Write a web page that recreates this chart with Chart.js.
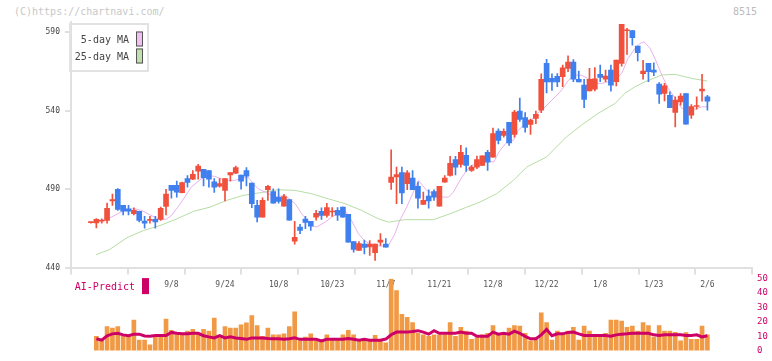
<!DOCTYPE html>
<html>
<head>
<meta charset="utf-8">
<script src="https://cdn.jsdelivr.net/npm/chart.js@4.4.1/dist/chart.umd.min.js"></script>
<style>
    body { margin: 0; background: #fff; width: 772px; height: 361px; overflow: hidden; position: relative; font-family: "DejaVu Sans Mono", monospace; }
    #price-wrap { position: absolute; left: 0; top: 0; width: 772px; height: 300px; }
    #volume-wrap { position: absolute; left: 0; top: 268px; width: 772px; height: 93px; }
    .note { position: absolute; top: 5px; font-size: 10px; line-height: 14px; color: #c8c8c8; }
</style>
</head>
<body>
<div class="note" style="left:14px">(C)https://chartnavi.com/</div>
<div class="note" style="left:733px;color:#bbb">8515</div>
<div id="price-wrap"><canvas id="price-chart"></canvas></div>
<div id="volume-wrap"><canvas id="volume-chart"></canvas></div>
<script>
// daily candles, 8/18 .. 2/6 (index = trading day)
const opens = [468.6, 468.5, 469.5, 470.0, 482.4, 489.8, 479.6, 477.5, 474.3, 475.8,
    469.6, 470.0, 470.7, 470.7, 479.0, 492.4, 492.4, 487.7, 496.8, 496.4,
    501.5, 502.6, 501.9, 494.7, 491.9, 489.2, 499.0, 500.2, 499.0, 501.9,
    493.8, 479.6, 472.1, 489.6, 488.5, 484.7, 479.2, 483.4, 456.8, 465.8,
    470.9, 469.4, 472.1, 475.8, 473.2, 475.4, 476.4, 478.5, 473.9, 456.6,
    450.9, 454.9, 453.2, 449.4, 456.2, 454.9, 494.3, 497.7, 500.5, 493.4,
    497.0, 491.7, 480.2, 485.5, 488.5, 479.2, 494.5, 498.7, 508.9, 505.8,
    511.5, 501.9, 504.0, 505.1, 513.4, 510.4, 527.0, 524.3, 532.6, 524.9,
    539.8, 535.7, 531.3, 535.1, 540.4, 570.2, 560.6, 562.0, 561.7, 567.0,
    571.0, 560.0, 556.3, 552.7, 553.8, 563.2, 560.2, 565.9, 558.5, 570.2,
    591.0, 591.2, 581.2, 563.6, 570.2, 565.9, 557.0, 551.1, 549.8, 538.9,
    545.7, 551.0, 537.2, 542.7, 552.7, 548.9];
const highs = [469.0, 471.2, 471.0, 481.1, 486.8, 490.4, 479.6, 479.6, 478.1, 475.8,
    472.6, 472.6, 472.6, 478.5, 489.8, 492.4, 495.1, 494.5, 498.7, 501.9,
    505.8, 502.6, 501.9, 496.8, 496.8, 496.8, 500.6, 504.7, 499.0, 503.8,
    493.8, 482.8, 484.5, 492.4, 490.2, 490.2, 486.6, 483.4, 469.4, 467.5,
    472.6, 469.4, 476.4, 478.1, 480.9, 478.3, 478.3, 478.5, 473.9, 456.6,
    456.6, 457.5, 457.1, 454.9, 461.7, 458.5, 515.0, 504.1, 504.1, 501.9,
    501.9, 494.5, 488.1, 489.6, 489.6, 491.7, 498.7, 510.9, 510.9, 517.9,
    516.4, 505.1, 511.1, 511.3, 514.7, 528.9, 528.5, 528.5, 532.6, 540.2,
    548.1, 538.9, 534.7, 539.8, 563.6, 572.8, 563.6, 563.7, 569.1, 575.1,
    572.7, 565.3, 560.0, 567.0, 567.6, 569.1, 565.9, 569.1, 572.3, 595.1,
    592.5, 591.2, 581.2, 572.1, 570.2, 570.6, 558.0, 557.4, 552.1, 548.9,
    551.0, 551.0, 544.0, 548.9, 563.2, 549.9];
const lows = [468.2, 465.3, 468.3, 468.3, 479.6, 476.4, 473.6, 473.6, 473.6, 469.0,
    465.1, 468.3, 465.1, 470.0, 473.6, 484.3, 484.9, 487.5, 491.3, 496.0,
    496.4, 492.1, 491.3, 487.9, 491.3, 482.4, 495.1, 499.8, 490.0, 492.1,
    478.1, 469.0, 472.1, 482.8, 481.1, 481.1, 479.2, 470.2, 454.9, 461.5,
    464.7, 463.6, 470.2, 470.7, 472.1, 472.6, 470.0, 472.1, 456.2, 449.8,
    450.9, 448.7, 447.7, 444.5, 454.1, 453.0, 489.8, 480.7, 480.7, 489.6,
    489.6, 477.9, 480.2, 477.9, 482.8, 479.2, 494.5, 498.3, 499.1, 504.0,
    501.3, 501.3, 503.0, 505.1, 501.9, 510.4, 518.9, 523.2, 517.9, 523.2,
    533.2, 526.4, 524.9, 531.7, 538.7, 551.3, 553.0, 555.4, 555.3, 564.9,
    558.5, 558.3, 541.9, 552.7, 552.7, 558.5, 558.5, 552.5, 555.9, 568.5,
    575.9, 581.9, 571.7, 560.2, 558.5, 562.3, 544.6, 546.3, 541.9, 529.7,
    543.6, 531.4, 535.1, 541.0, 546.1, 540.4];
const closes = [468.9, 470.7, 469.9, 477.7, 483.4, 477.0, 476.0, 476.0, 476.4, 470.0,
    468.3, 470.7, 469.0, 477.7, 486.8, 489.2, 488.1, 494.1, 494.3, 499.4,
    504.7, 497.3, 496.4, 491.3, 493.6, 496.8, 500.6, 503.8, 495.1, 498.3,
    480.7, 472.1, 482.8, 491.7, 481.1, 482.1, 485.3, 470.2, 459.2, 463.6,
    468.7, 466.4, 474.5, 473.2, 478.3, 475.8, 473.4, 472.1, 456.2, 451.5,
    455.3, 452.8, 454.9, 454.9, 457.5, 453.0, 497.7, 499.2, 487.5, 500.4,
    489.6, 484.3, 482.8, 482.4, 484.9, 491.7, 497.0, 506.4, 504.0, 513.4,
    505.1, 504.0, 508.9, 511.3, 507.2, 525.5, 521.1, 526.8, 519.4, 539.2,
    534.5, 529.4, 534.0, 537.7, 560.0, 558.3, 558.3, 558.4, 567.4, 571.0,
    560.2, 558.3, 547.2, 560.0, 560.4, 561.2, 562.1, 556.3, 572.3, 595.1,
    591.6, 586.6, 577.0, 565.3, 564.9, 564.6, 550.6, 555.9, 541.9, 546.8,
    549.3, 531.4, 542.7, 543.3, 553.8, 546.1];

// volume (10k shares) and AI-Predict line
const volumes = [null, 9.9, 7.2, 16.6, 15.6, 16.6, 9.9, 9.9, 21.1, 7.2,
    7.2, 4.0, 9.9, 9.9, 21.9, 14.1, 11.4, 11.4, 13.5, 14.7,
    11.4, 14.7, 13.5, 22.6, 9.9, 16.6, 15.6, 15.6, 17.9, 19.2,
    24.2, 17.3, 9.9, 15.6, 10.9, 10.9, 11.6, 16.6, 26.8, 6.7,
    9.3, 11.6, 6.7, 7.2, 10.9, 7.2, 7.2, 10.9, 14.1, 10.9,
    7.2, 7.2, 7.2, 10.5, 7.2, 5.3, 49.6, 41.5, 25.1, 23.0,
    19.4, 12.0, 10.9, 9.9, 10.9, 10.9, 10.9, 19.4, 9.9, 16.2,
    13.5, 7.8, 8.8, 10.9, 12.0, 17.3, 12.0, 12.0, 15.6, 17.3,
    16.9, 12.0, 6.7, 7.8, 26.1, 19.4, 7.2, 13.5, 10.9, 13.5,
    16.2, 7.2, 16.9, 13.5, 9.3, 9.3, 12.0, 21.1, 21.1, 20.5,
    16.2, 16.9, 13.5, 19.4, 17.3, 9.3, 17.3, 13.5, 13.5, 12.6,
    6.7, 12.4, 7.8, 7.8, 16.9, 10.9];
const aiPredict = [null, 8.2, 7.2, 10.3, 11.6, 12.0, 10.9, 10.3, 11.4, 11.4,
    10.1, 9.9, 10.5, 10.5, 10.5, 12.6, 12.0, 11.6, 11.6, 12.0,
    12.0, 10.3, 9.5, 8.8, 10.3, 8.8, 9.5, 8.8, 8.4, 7.8,
    8.8, 8.8, 8.8, 8.4, 8.2, 8.2, 7.8, 8.2, 8.8, 7.8,
    7.8, 7.8, 7.8, 6.7, 7.8, 7.8, 7.8, 7.8, 8.4, 7.8,
    7.2, 7.8, 7.2, 7.2, 7.2, 8.0, 11.0, 12.8, 12.8, 12.8,
    13.2, 13.8, 12.8, 11.4, 13.8, 12.0, 12.0, 12.0, 12.0, 12.8,
    12.0, 12.0, 9.9, 9.9, 9.9, 12.8, 11.4, 12.0, 11.4, 13.5,
    12.0, 9.9, 8.2, 8.2, 10.9, 14.7, 10.3, 11.6, 11.6, 12.6,
    12.8, 11.6, 10.5, 10.5, 10.5, 10.5, 10.5, 9.9, 10.9, 11.4,
    11.6, 12.0, 12.0, 12.0, 12.0, 10.9, 10.5, 10.9, 10.9, 10.9,
    10.9, 10.5, 10.5, 10.9, 9.5, 10.3];

// moving averages as [day index, value]
const ma5 = [[1.3, 470.0], [3.2, 471.1], [5.0, 474.3], [6.3, 476.8], [8.2, 477.5], [9.4, 476.4],
    [11, 473.6], [12.5, 471.1], [14, 470.7], [15, 473.2], [16.2, 478.5], [17.5, 484.9],
    [18.7, 491.3], [20.6, 496.6], [21.8, 498.7], [23.1, 498.1], [24.3, 496.6], [25.6, 495.6],
    [26.8, 495.6], [28, 496.6], [29.3, 497.7], [30.3, 493.4], [31.2, 490.2], [32.5, 488.1],
    [34.3, 484.9], [36.2, 486.0], [38.1, 480.7], [39.3, 474.3], [41.2, 466.8], [42.1, 465.8],
    [43.7, 469.0], [44.9, 472.1], [46.8, 476.0], [47.4, 476.4], [48.6, 470.0], [49.9, 461.5],
    [51.1, 456.8], [52.7, 454.1], [54.2, 453.6], [55.5, 454.1], [56.7, 461.5], [57.6, 470.0],
    [58.9, 478.5], [61.1, 495.5], [62.6, 489.2], [63.9, 487.0], [65.4, 484.9], [66.7, 484.9],
    [67.6, 488.1], [69.2, 497.7], [70.1, 501.9], [71, 505.1], [72.6, 507.2], [73.8, 508.3],
    [75.1, 507.2], [76.3, 514.7], [77.6, 520.0], [78.8, 521.1], [79.7, 527.5], [81, 531.7],
    [81.9, 532.8], [83.2, 538.1], [84.4, 541.3], [85.6, 545.5], [86.9, 549.8], [87.8, 553.2],
    [89.1, 559.5], [90.3, 562.7], [91.5, 562.7], [92.7, 560.6], [94, 557.4], [95.3, 557.4],
    [96.5, 558.5], [97.8, 559.5], [99, 563.8], [100.2, 573.4], [101.5, 579.8], [102.4, 582.9],
    [103.2, 584.0], [104.3, 579.8], [105.2, 573.4], [106.5, 562.7], [107.7, 554.2], [109, 547.8],
    [110.2, 541.5], [111.8, 541.9], [112.7, 541.0], [113.9, 542.5], [115.1, 542.5]];
const ma25 = [[0.9, 448.1], [3.5, 451.5], [6.7, 459.0], [9.8, 463.6], [12.9, 466.8], [16, 471.0],
    [19.1, 475.8], [22.2, 478.5], [25.3, 482.8], [28.4, 486.0], [31.5, 487.7], [34.9, 489.6],
    [38.1, 489.2], [41.2, 487.0], [44.3, 483.8], [47.4, 480.7], [50.5, 476.4], [53.6, 471.1],
    [55.5, 468.9], [58.6, 470.5], [63.9, 470.5], [67, 474.3], [70.1, 478.5], [72.6, 481.8],
    [75.7, 487.1], [78.8, 495.6], [81.3, 504.1], [85, 510.5], [88.7, 523.3], [91.5, 530.8],
    [94.6, 538.3], [97.8, 544.7], [99.6, 551.1], [101.5, 555.3], [103.4, 558.5], [106.5, 562.8],
    [109, 563.2], [112.1, 560.6], [115, 558.9]];

const tickIdx = [15, 25, 35, 45, 55, 65, 75, 85, 95, 105, 115];
const tickLabels = ['9/8', '9/24', '10/8', '10/23', '11/7', '11/21', '12/8', '12/22', '1/8', '1/23', '2/6'];
const priceTicks = [440, 490, 540, 590];
const volTicks = [0, 10, 20, 30, 40, 50];

const UP = '#f0503c';
const DOWN = '#3f7fee';
const MONO = '"DejaVu Sans Mono", monospace';
const X_MIN = -3.73;
const X_MAX = 123.32;

const days = closes.map((c, i) => i);
const candleColors = days.map(i => closes[i] >= opens[i] ? UP : DOWN);

// legend drawn as a framed box in the top-left of the plot, text left of the swatch
const boxLegend = {
    id: 'boxLegend',
    afterDraw(chart, args, opts) {
        if (!opts.items) return;
        const ctx = chart.ctx;
        const left = chart.chartArea.left + opts.dx;
        const top = chart.chartArea.top + opts.dy;
        ctx.save();
        if (opts.frame) {
            ctx.strokeStyle = '#e2e2e2';
            ctx.lineWidth = 2;
            ctx.strokeRect(left, top, opts.w, opts.h);
        }
        ctx.font = opts.font;
        ctx.textAlign = 'right';
        ctx.textBaseline = 'middle';
        opts.items.forEach((item, k) => {
            const cy = top + opts.firstRow + k * opts.rowGap;
            ctx.fillStyle = item.textColor;
            ctx.fillText(item.text, left + opts.textRight, cy + 1);
            ctx.fillStyle = item.fill;
            ctx.fillRect(left + opts.swatchX, cy - opts.swatchH / 2, opts.swatchW, opts.swatchH);
            if (item.stroke) {
                ctx.strokeStyle = item.stroke;
                ctx.lineWidth = 1;
                ctx.strokeRect(left + opts.swatchX + 0.5, cy - opts.swatchH / 2 + 0.5, opts.swatchW - 1, opts.swatchH - 1);
            }
        });
        ctx.restore();
    }
};

Chart.register(boxLegend);

new Chart(document.getElementById('price-chart'), {
    type: 'bar',
    data: {
        datasets: [{
            label: 'wick',
            data: days.map(i => ({ x: i, y: [lows[i], highs[i]] })),
            backgroundColor: candleColors,
            barThickness: 1,
            minBarLength: 1,
            grouped: false,
            order: 1,
        }, {
            label: 'body',
            data: days.map(i => ({ x: i, y: [opens[i], closes[i]] })),
            backgroundColor: candleColors,
            barThickness: 5,
            minBarLength: 1,
            grouped: false,
            order: 0,
        }, {
            type: 'line',
            label: '5-day MA',
            data: ma5.map(p => ({ x: p[0], y: p[1] })),
            borderColor: '#e8b2ea',
            borderWidth: 1,
            pointRadius: 0,
            order: 2,
        }, {
            type: 'line',
            label: '25-day MA',
            data: ma25.map(p => ({ x: p[0], y: p[1] })),
            borderColor: '#b6dca4',
            borderWidth: 1,
            pointRadius: 0,
            order: 3,
        }]
    },
    options: {
        responsive: true,
        maintainAspectRatio: false,
        animation: false,
        events: [],
        layout: { padding: { top: 22, right: 20, left: 0, bottom: 0 } },
        scales: {
            x: {
                type: 'linear',
                min: X_MIN,
                max: X_MAX,
                offset: false,
                position: 'bottom',
                weight: 1,
                afterBuildTicks: s => { s.ticks = tickIdx.map(v => ({ value: v })); },
                afterFit: s => { s.height = 24.5; },
                ticks: {
                    autoSkip: false,
                    maxRotation: 0,
                    padding: 5,
                    color: '#555',
                    font: { family: MONO, size: 8 },
                    callback: v => tickLabels[tickIdx.indexOf(v)] || '',
                },
                grid: { display: false, drawTicks: false },
                border: { display: false },
            },
            frameX: {
                type: 'linear',
                min: 0,
                max: 11,
                position: 'bottom',
                weight: 0,
                afterFit: s => { s.height = 8; },
                ticks: { display: false, stepSize: 1 },
                grid: { drawOnChartArea: false, tickLength: 7, color: '#e0e0e0', lineWidth: 2 },
                border: { color: '#e0e0e0', width: 2 },
            },
            y: {
                min: 440,
                max: 596.6,
                afterBuildTicks: s => { s.ticks = priceTicks.map(v => ({ value: v })); },
                afterFit: s => { s.width = 71; },
                ticks: { padding: 5, color: '#444', font: { family: MONO, size: 8 } },
                grid: { drawOnChartArea: false, tickLength: 6, color: '#e0e0e0', lineWidth: 2 },
                border: { color: '#e0e0e0', width: 2 },
            }
        },
        plugins: {
            legend: { display: false },
            tooltip: { enabled: false },
            boxLegend: {
                dx: -1, dy: 2, w: 78, h: 47,
                firstRow: 15, rowGap: 17,
                textRight: 59, swatchX: 66, swatchW: 7, swatchH: 15,
                frame: true,
                font: '10px ' + MONO,
                items: [
                    { text: '5-day MA', textColor: '#444', fill: '#f0c0f0', stroke: '#555' },
                    { text: '25-day MA', textColor: '#444', fill: '#c0e0b0', stroke: '#555' },
                ]
            }
        }
    }
});

new Chart(document.getElementById('volume-chart'), {
    type: 'bar',
    data: {
        datasets: [{
            type: 'line',
            label: 'AI-Predict',
            data: days.map(i => ({ x: i, y: aiPredict[i] })),
            borderColor: '#cc0066',
            borderWidth: 3,
            pointRadius: 0,
            order: 0,
        }, {
            label: 'Volume',
            data: days.map(i => ({ x: i, y: volumes[i] })),
            backgroundColor: '#f19a45',
            barThickness: 4,
            grouped: false,
            order: 1,
        }]
    },
    options: {
        responsive: true,
        maintainAspectRatio: false,
        animation: false,
        events: [],
        layout: { padding: { top: 10.3, right: 0, left: 71, bottom: 3.2 } },
        scales: {
            x: {
                type: 'linear',
                min: X_MIN,
                max: X_MAX,
                offset: false,
                display: false,
            },
            y: {
                position: 'right',
                min: 0,
                max: 50,
                afterBuildTicks: s => { s.ticks = volTicks.map(v => ({ value: v })); },
                afterFit: s => { s.width = 20; },
                ticks: { padding: 5, color: '#cc0066', font: { family: MONO, size: 9 } },
                grid: { display: false, drawTicks: false },
                border: { display: false },
            }
        },
        plugins: {
            legend: { display: false },
            tooltip: { enabled: false },
            boxLegend: {
                dx: 0, dy: -1.3, w: 0, h: 0,
                firstRow: 9, rowGap: 0,
                textRight: 64, swatchX: 71, swatchW: 7, swatchH: 16,
                frame: false,
                font: '10px ' + MONO,
                items: [
                    { text: 'AI-Predict', textColor: '#cc0066', fill: '#cc0066' },
                ]
            }
        }
    }
});
</script>
</body>
</html>
